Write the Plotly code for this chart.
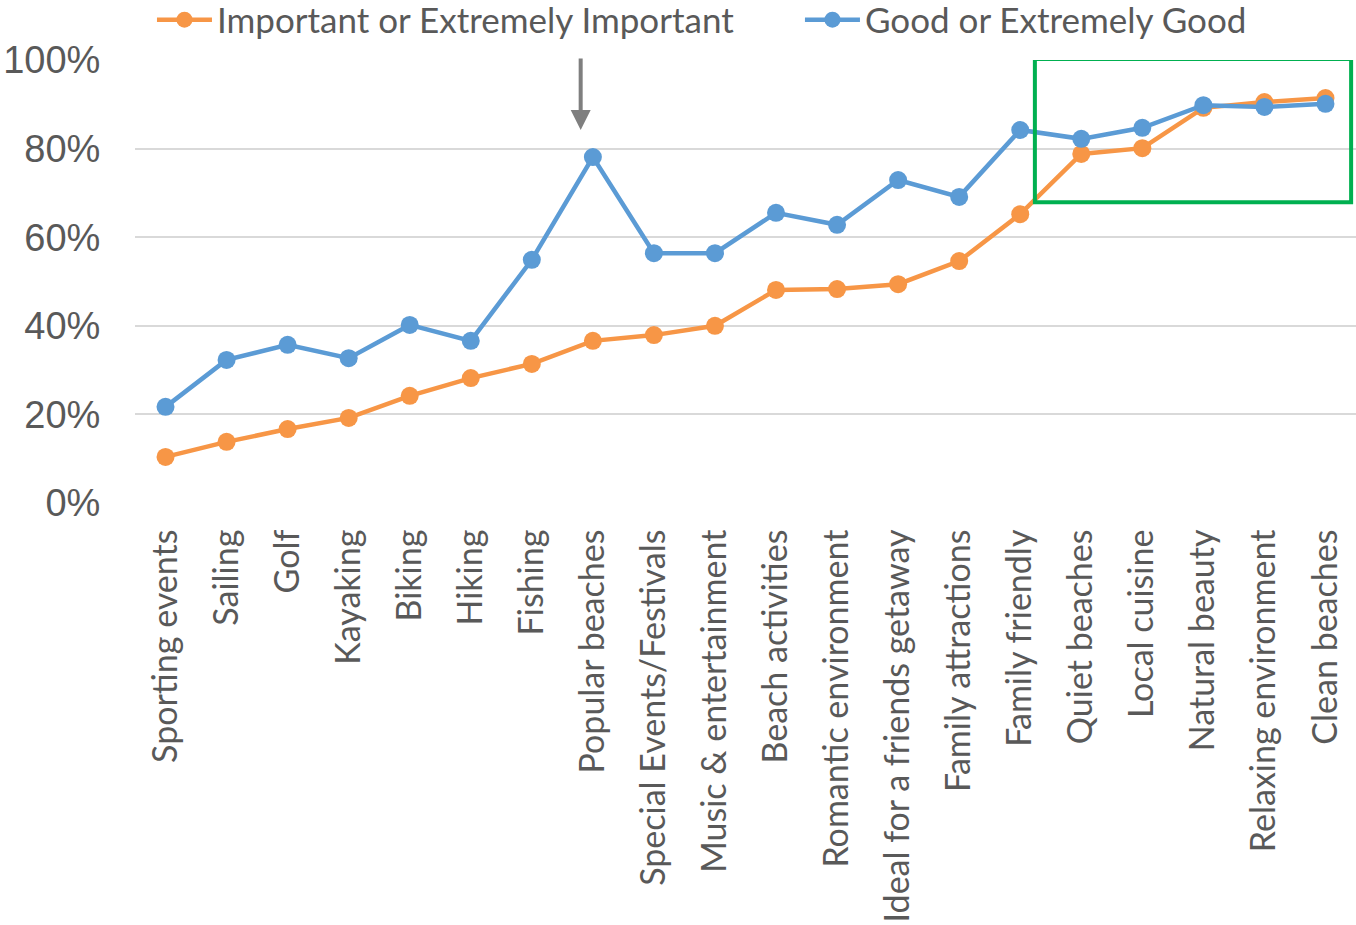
import plotly.graph_objects as go

categories = ["Sporting events", "Sailing", "Golf", "Kayaking", "Biking", "Hiking", "Fishing",
              "Popular beaches", "Special Events/Festivals", "Music & entertainment",
              "Beach activities", "Romantic environment", "Ideal for a friends getaway",
              "Family attractions", "Family friendly", "Quiet beaches", "Local cuisine",
              "Natural beauty", "Relaxing environment", "Clean beaches"]

important = [0.104, 0.138, 0.167, 0.192, 0.242, 0.282, 0.314, 0.366, 0.379, 0.400,
             0.481, 0.483, 0.494, 0.546, 0.652, 0.788, 0.801, 0.892, 0.905, 0.914]

good = [0.217, 0.323, 0.357, 0.327, 0.402, 0.366, 0.549, 0.781, 0.564, 0.564,
        0.655, 0.628, 0.729, 0.691, 0.842, 0.822, 0.847, 0.898, 0.894, 0.901]

ORANGE = "#F79646"
BLUE = "#5B9BD5"
TXT = "#595959"
LABEL_FONT = "Lato"

fig = go.Figure()
fig.add_trace(go.Scatter(x=categories, y=important, mode="lines+markers",
                         name="Important or Extremely Important",
                         line=dict(color=ORANGE, width=4.5),
                         marker=dict(color=ORANGE, size=18), legend="legend"))
fig.add_trace(go.Scatter(x=categories, y=good, mode="lines+markers",
                         name="Good or Extremely Good",
                         line=dict(color=BLUE, width=4.5),
                         marker=dict(color=BLUE, size=18), legend="legend2"))

# Arrow pointing at "Popular beaches"
fig.add_annotation(x=6.8, y=0.842, ax=6.8, ay=1.007, xref="x", yref="y", axref="x", ayref="y",
                   text="", showarrow=True, arrowhead=2, arrowsize=1, arrowwidth=4,
                   arrowcolor="#7F7F7F")

# Green highlight box
fig.add_shape(type="rect", xref="x", yref="y", x0=14.24, x1=19.42, y0=0.679, y1=1.002,
              line=dict(color="#00B050", width=4), fillcolor="rgba(0,0,0,0)", layer="above")

legend_common = dict(orientation="h", xref="paper", yref="paper",
                     y=1.019, xanchor="left", yanchor="top",
                     font=dict(family=LABEL_FONT, size=35, color=TXT),
                     bgcolor="rgba(0,0,0,0)", borderwidth=0, itemwidth=55)

plot_h = 925 - 422
fig.update_layout(
    width=1356, height=925,
    margin=dict(l=135, r=0, t=0, b=422, autoexpand=False),
    paper_bgcolor="white", plot_bgcolor="white",
    showlegend=True,
    legend=dict(x=0.0139, **legend_common),
    legend2=dict(x=0.5446, **legend_common),
    xaxis=dict(type="category", range=[-0.5, 19.5], showgrid=False, zeroline=False,
               showline=False, tickangle=-90, automargin=False,
               ticks="outside", ticklen=12, tickcolor="rgba(0,0,0,0)",
               tickfont=dict(family=LABEL_FONT, size=34, color=TXT)),
    yaxis=dict(range=[0, 1], domain=[0, (plot_h - 60) / plot_h], automargin=False,
               tickvals=[0, 0.2, 0.4, 0.6, 0.8, 1.0], tickformat=".0%",
               showgrid=True, gridcolor="#D9D9D9", gridwidth=2, zeroline=False,
               showline=False, ticks="outside", ticklen=26, tickcolor="rgba(0,0,0,0)",
               tickfont=dict(family="Liberation Sans", size=38, color=TXT)),
)

fig.write_html("out.html")
